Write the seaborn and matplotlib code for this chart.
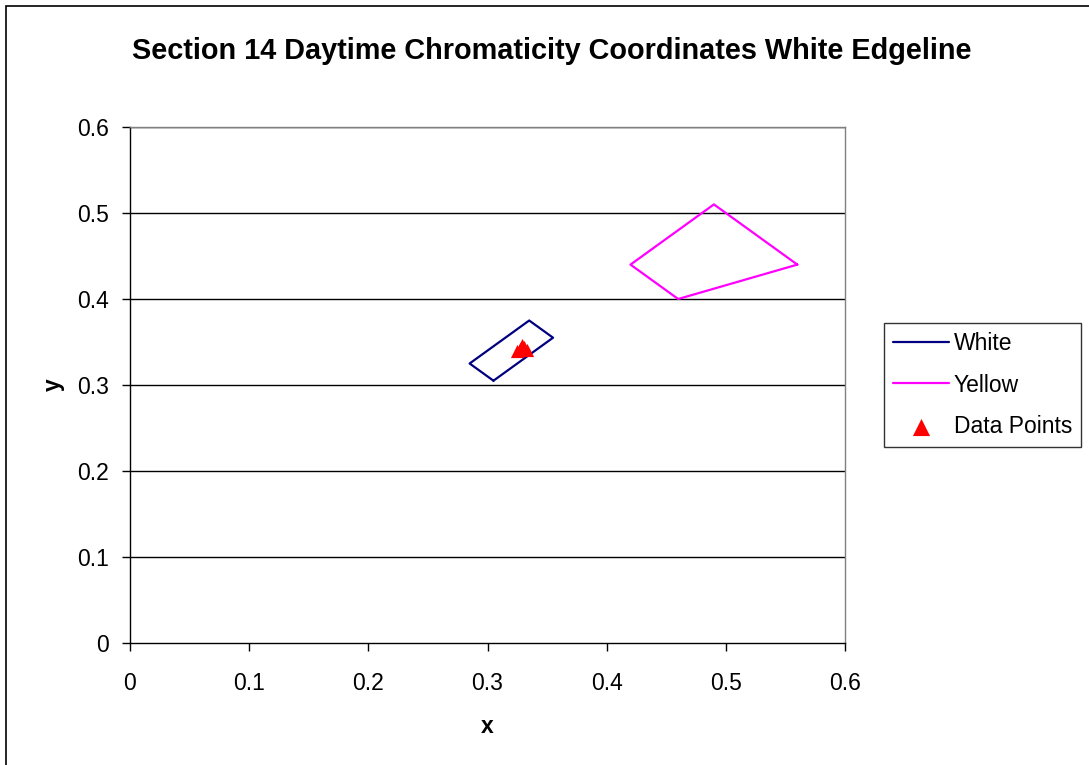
import matplotlib
matplotlib.use("Agg")
import matplotlib.pyplot as plt
from matplotlib.patches import Rectangle
import seaborn as sns
import pandas as pd

# Chromaticity boxes (closed polygons) and measured points
white_x = [0.305, 0.355, 0.335, 0.285, 0.305]
white_y = [0.305, 0.355, 0.375, 0.325, 0.305]
yellow_x = [0.560, 0.460, 0.420, 0.490, 0.560]
yellow_y = [0.440, 0.400, 0.440, 0.510, 0.440]
point_x = [0.325, 0.327, 0.329, 0.331, 0.333, 0.328]
point_y = [0.340, 0.342, 0.346, 0.344, 0.341, 0.343]

x_ticks = [0, 0.1, 0.2, 0.3, 0.4, 0.5, 0.6]
y_ticks = [0, 0.1, 0.2, 0.3, 0.4, 0.5, 0.6]
tick_labels = ["0", "0.1", "0.2", "0.3", "0.4", "0.5", "0.6"]

sns.set_theme(style="white")
plt.rcParams["font.family"] = ["Liberation Sans", "DejaVu Sans"]
plt.rcParams["text.color"] = "black"
plt.rcParams["axes.labelcolor"] = "black"
plt.rcParams["xtick.color"] = "black"
plt.rcParams["ytick.color"] = "black"

W, H = 1089, 765
fig = plt.figure(figsize=(W / 100, H / 100), dpi=100)
fig.patches.append(Rectangle((6 / W, -0.01), 1.1, 1 - 6 / H + 0.01, transform=fig.transFigure,
                             fill=False, edgecolor="black", linewidth=1.2))

ax = fig.add_axes([130 / W, 1 - 643 / H, (845 - 130) / W, (643 - 127) / H])

white = pd.DataFrame({"x": white_x, "y": white_y})
yellow = pd.DataFrame({"x": yellow_x, "y": yellow_y})
pts = pd.DataFrame({"x": point_x, "y": point_y})

ax.set_xlim(0, 0.6)
ax.set_ylim(0, 0.6)
for yv in y_ticks[1:]:
    ax.axhline(yv, color="black", linewidth=1.0, zorder=0)

sns.lineplot(data=white, x="x", y="y", sort=False, estimator=None, color="#000080",
             linewidth=1.6, ax=ax, label="White")
sns.lineplot(data=yellow, x="x", y="y", sort=False, estimator=None, color="#FF00FF",
             linewidth=1.6, ax=ax, label="Yellow")
sns.scatterplot(data=pts, x="x", y="y", marker="^", color="red", s=90, linewidth=0,
                ax=ax, label="Data Points", zorder=5)

ax.set_xticks(x_ticks)
ax.set_xticklabels(tick_labels)
ax.set_yticks(y_ticks)
ax.set_yticklabels(tick_labels)
ax.tick_params(axis="both", direction="out", length=6, width=1, color="black",
               labelcolor="black", labelsize=16.5, bottom=True, left=True)
ax.tick_params(axis="x", pad=15)
ax.tick_params(axis="y", pad=9)
for side in ["left", "bottom"]:
    ax.spines[side].set_color("black")
    ax.spines[side].set_linewidth(1.0)
for side in ["right", "top"]:
    ax.spines[side].set_color("#808080")
    ax.spines[side].set_linewidth(1.0)

ax.set_xlabel("x", fontsize=16.5, fontweight="bold", labelpad=14, color="black")
ax.set_ylabel("y", fontsize=16.5, fontweight="bold", labelpad=9, color="black")
fig.text(552 / W, 1 - 51 / H, "Section 14 Daytime Chromaticity Coordinates White Edgeline",
         fontsize=20.8, fontweight="bold", ha="center", va="center", color="black")

ax.get_legend().remove()
handles, labels = ax.get_legend_handles_labels()
leg = fig.legend(handles, labels, loc="upper left",
                 bbox_to_anchor=(884 / W, 1 - 323 / H), fontsize=16.5,
                 frameon=True, fancybox=False, edgecolor="black", handlelength=2.45,
                 borderpad=0.38, labelspacing=0.82, handletextpad=0.22, borderaxespad=0,
                 markerscale=1.3)
leg.get_frame().set_linewidth(1.0)
for t in leg.get_texts():
    t.set_color("black")

fig.savefig("out.png", dpi=100)
